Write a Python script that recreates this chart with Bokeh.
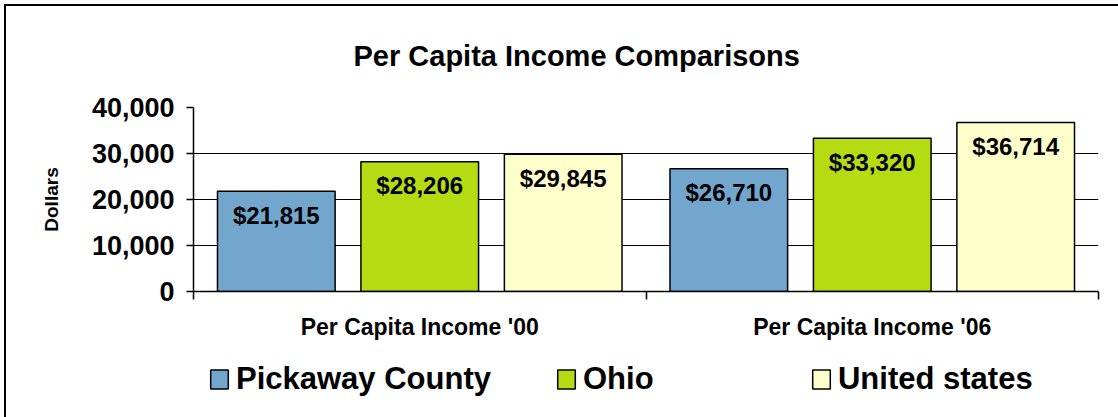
from bokeh.plotting import figure
from bokeh.layouts import column
from bokeh.models import (Range1d, FixedTicker, NumeralTickFormatter, Legend, LegendItem,
                          ColumnDataSource)
from bokeh.core.properties import value
from bokeh.embed import file_html
from bokeh.resources import INLINE

# ---- data ----
categories = ["Per Capita Income '00", "Per Capita Income '06"]
series_names = ["Pickaway County", "Ohio", "United states"]
pickaway = [21815, 26710]
ohio = [28206, 33320]
united_states = [29845, 36714]
y_ticks = [0, 10000, 20000, 30000, 40000]

series_values = [pickaway, ohio, united_states]
colors = ["#72A6CD", "#B5DB12", "#FFFFCC"]
offsets = [-0.317, 0.0, 0.317]
FONT = "Liberation Sans"

p = figure(width=1118, height=345, output_backend="svg", toolbar_location=None,
           x_range=Range1d(0, len(categories)), y_range=Range1d(0, 40000),
           min_border_left=193, min_border_right=20, min_border_top=107, min_border_bottom=54)
p.background_fill_color = "white"
p.border_fill_alpha = 0
p.outline_line_color = None

# title
p.title.text = "Per Capita Income Comparisons"
p.title.text_font = FONT
p.title.text_font_size = "29px"
p.title.text_font_style = "bold"
p.title.text_color = "black"
p.title.align = "left"
p.title.offset = 160
p.title.standoff = 72

# grid
p.xgrid.visible = False
p.ygrid.ticker = FixedTicker(ticks=y_ticks)
p.ygrid.grid_line_color = "black"
p.ygrid.grid_line_width = 1

# y axis
p.yaxis.ticker = FixedTicker(ticks=y_ticks)
p.yaxis.formatter = NumeralTickFormatter(format="0,0")
p.yaxis.axis_label = "Dollars"
p.yaxis.axis_label_text_font = FONT
p.yaxis.axis_label_text_font_size = "19px"
p.yaxis.axis_label_text_font_style = "bold"
p.yaxis.axis_label_text_color = "black"
p.yaxis.axis_label_standoff = 27
p.yaxis.major_label_text_font = FONT
p.yaxis.major_label_text_font_size = "27px"
p.yaxis.major_label_text_font_style = "bold"
p.yaxis.major_label_text_color = "black"
p.yaxis.major_label_standoff = 12
p.yaxis.major_tick_out = 7
p.yaxis.major_tick_in = 0
p.yaxis.minor_tick_line_color = None
p.yaxis.axis_line_color = "black"
p.yaxis.axis_line_width = 1.5
p.yaxis.major_tick_line_width = 1.5

# x axis
cat_pos = [i + 0.5 for i in range(len(categories))]
p.xaxis.ticker = FixedTicker(ticks=cat_pos, minor_ticks=list(range(len(categories) + 1)))
p.xaxis.major_label_overrides = {c: lab for c, lab in zip(cat_pos, categories)}
p.xaxis.major_tick_out = 0
p.xaxis.major_tick_in = 0
p.xaxis.minor_tick_out = 8
p.xaxis.minor_tick_in = 0
p.xaxis.minor_tick_line_width = 1.5
p.xaxis.minor_tick_line_color = "black"
p.xaxis.axis_line_color = "black"
p.xaxis.axis_line_width = 1.5
p.xaxis.major_label_text_font = FONT
p.xaxis.major_label_text_font_size = "23px"
p.xaxis.major_label_text_font_style = "bold"
p.xaxis.major_label_text_color = "black"
p.xaxis.major_label_standoff = 14

# legend strip (separate canvas below the chart; its frame aligns with the chart frame)
pl = figure(width=1118, height=72, output_backend="svg", toolbar_location=None,
            x_axis_location=None, y_axis_location=None,
            x_range=Range1d(10, 10 + len(categories)), y_range=Range1d(0, 40000),
            min_border=0)
pl.grid.visible = False
pl.outline_line_color = None
pl.background_fill_alpha = 0
pl.border_fill_alpha = 0

leg_renderers = []
for name, vals, col, off in zip(series_names, series_values, colors, offsets):
    src = ColumnDataSource(dict(x=[c + off for c in cat_pos], top=vals,
                                lab=["${:,}".format(v) for v in vals]))
    p.vbar(x="x", top="top", width=0.26, source=src, fill_color=col,
           line_color="black", line_width=1.5)
    p.text(x="x", y="top", text="lab", source=src, text_align="center",
           text_baseline="middle", y_offset=24, text_font=value(FONT),
           text_font_size="24px", text_font_style="bold", text_color="black")
    # legend-only copies of the bars: hidden, they just supply the legend swatches
    leg_renderers.append(pl.vbar(x="x", top="top", width=0.26, source=src, fill_color=col,
                                 line_color="black", line_width=1.5, visible=False))

legend = Legend(items=[LegendItem(label=n, renderers=[r]) for n, r in zip(series_names, leg_renderers)],
                location=(15, 20), orientation="horizontal", padding=0, margin=0,
                spacing=64, label_width=163, click_policy="none",
                glyph_width=22, glyph_height=24, label_standoff=6,
                label_text_font=FONT, label_text_font_size="31px",
                label_text_font_style="bold", label_text_color="black",
                border_line_color=None, background_fill_alpha=0)
pl.add_layout(legend, "center")

layout = column(p, pl, spacing=0)
layout.styles = {
    "background-color": "white",
    "background-image": ("linear-gradient(to right, transparent 4px, black 4px, black 6px, transparent 6px), "
                         "linear-gradient(to bottom, transparent 4px, black 4px, black 6px, transparent 6px)"),
    "background-size": "100% 100%, 100% 100%",
    "background-position": "0px 4px, 4px 0px",
    "background-repeat": "no-repeat",
}

open("out.html", "w").write(file_html(layout, INLINE))
